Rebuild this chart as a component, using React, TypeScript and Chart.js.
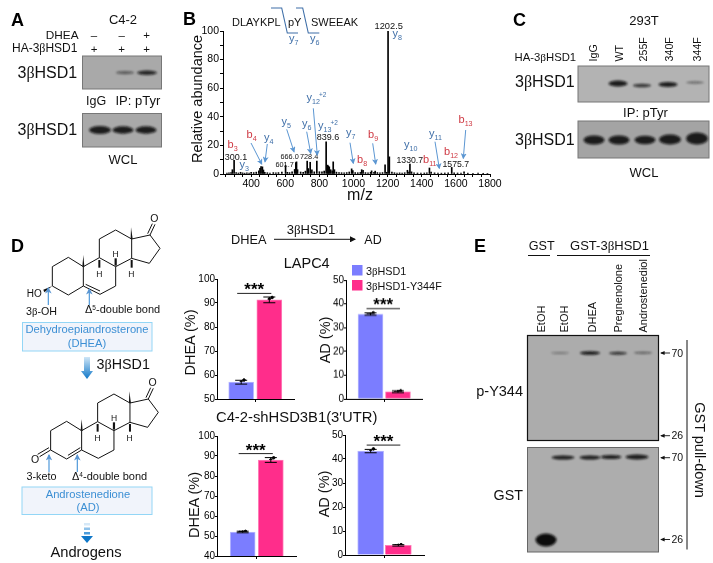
import React, { useEffect, useRef } from "react";
import { Chart, registerables } from "chart.js";

Chart.register(...registerables);

const SANS = "'Liberation Sans', Arial, sans-serif";
const BLUE = "#7b7dff";
const PINK = "#ff2d8b";
const ARROW = "#5b96d2";
const FRAG = "#3f6fa8";
const RED = "#cf3a44";

// Panel B: MS/MS spectrum
const peakMz = [258, 270, 282, 290, 300.1, 312, 325, 338, 350, 362, 375, 388, 400, 415, 430, 445, 452, 458, 466, 472, 480, 495, 510, 530, 545, 560, 580, 601.7, 612, 625, 640, 655, 662, 666, 672, 690, 705, 718, 728.4, 735, 746, 756, 770, 785, 800, 815, 828, 839.6, 848, 852, 858, 866, 875, 881, 888, 900, 915, 930, 945, 960, 975, 989, 996, 1010, 1025, 1040, 1048, 1056, 1070, 1085, 1100, 1106, 1120, 1127, 1140, 1155, 1170, 1185, 1195, 1202.5, 1210, 1225, 1240, 1255, 1270, 1285, 1300, 1316, 1325, 1330.7, 1340, 1355, 1375, 1395, 1415, 1430, 1445, 1455, 1475, 1495, 1515, 1535, 1555, 1575.7, 1590, 1610, 1630, 1648, 1670, 1700, 1730, 1760, 1785];
const peakIntensity = [0.6, 0.8, 1.0, 3.0, 9.5, 1.0, 0.7, 1.2, 0.8, 0.6, 0.9, 0.7, 1.1, 1.0, 1.3, 2.2, 4.0, 5.2, 5.0, 2.8, 1.2, 0.9, 0.7, 1.0, 0.8, 1.0, 1.4, 6.0, 1.2, 1.0, 1.5, 3.2, 8.0, 8.5, 3.0, 1.4, 1.2, 2.0, 9.0, 3.8, 8.2, 3.0, 1.5, 9.0, 1.6, 1.5, 2.0, 22.5, 6.2, 5.6, 5.0, 3.0, 2.2, 8.5, 3.0, 1.3, 1.0, 0.9, 0.8, 1.0, 1.4, 3.6, 2.4, 1.0, 0.9, 1.1, 3.0, 2.6, 1.0, 0.8, 1.2, 2.2, 1.2, 2.0, 1.0, 0.8, 1.0, 6.5, 1.2, 100, 12, 1.3, 0.9, 0.7, 0.8, 0.7, 0.9, 2.6, 1.4, 7.0, 1.5, 0.8, 0.7, 0.6, 0.7, 0.9, 4.2, 1.3, 0.8, 0.7, 0.6, 0.7, 0.8, 4.6, 0.8, 0.7, 0.6, 1.6, 0.6, 0.5, 0.6, 0.5, 0.4];

// Panel D: bars
const lapcDhea = [57, 91.3];
const lapcDheaErr = [0.8, 1.2];
const lapcDheaDots = [[56.3, 57, 57.9], [89.9, 91.6, 92.3]];
const lapcAd = [35.7, 3];
const lapcAdErr = [0.5, 0.4];
const lapcAdDots = [[35.3, 35.7, 36.2], [2.7, 3, 3.4]];
const c42Dhea = [52, 88];
const c42DheaErr = [0.4, 1.2];
const c42DheaDots = [[51.8, 52, 52.3], [86.8, 88, 89.1]];
const c42Ad = [43.3, 4];
const c42AdErr = [0.7, 0.3];
const c42AdDots = [[42.7, 43.2, 44.2], [3.8, 4, 4.3]];

const barDots = (values: number[], dots: number[][], spread: number) =>
  values.flatMap((_, i) => dots[i].map((d, k) => ({ x: i + 1 + (k - 1) * spread, y: d })));

const errorPlugin = {
  id: "errs",
  afterDatasetsDraw(chart: any) {
    const o = chart.options.plugins.errs;
    if (!o) return;
    const { x, y } = chart.scales;
    const c = chart.ctx;
    c.save();
    c.strokeStyle = "#000";
    c.lineWidth = 1;
    o.values.forEach((v: number, i: number) => {
      const px = x.getPixelForValue(i + 1);
      const top = y.getPixelForValue(v + o.err[i]);
      const bot = y.getPixelForValue(v - o.err[i]);
      c.beginPath();
      c.moveTo(px, top); c.lineTo(px, bot);
      c.moveTo(px - 6, top); c.lineTo(px + 6, top);
      c.moveTo(px - 6, bot); c.lineTo(px + 6, bot);
      c.stroke();
    });
    const by = y.getPixelForValue(o.bracket);
    c.strokeStyle = "#222";
    c.beginPath();
    c.moveTo(x.getPixelForValue(1) - 4, by);
    c.lineTo(x.getPixelForValue(2) + 2, by);
    c.stroke();
    c.fillStyle = "#000";
    c.font = `bold 17px ${SANS}`;
    c.textAlign = "center";
    c.textBaseline = "alphabetic";
    c.fillText("***", (x.getPixelForValue(1) + x.getPixelForValue(2)) / 2 - 1, by + 2);
    c.restore();
  },
};

type BarProps = {
  left: number; top: number; right: number; bottom: number;
  c1: number; c2: number; bw: number;
  min: number; max: number; step: number;
  values: number[]; err: number[]; dots: number[][]; bracket: number;
};

function useChart(make: (el: HTMLCanvasElement) => Chart) {
  const ref = useRef<HTMLCanvasElement>(null);
  useEffect(() => {
    const chart = make(ref.current!);
    return () => chart.destroy();
  }, []);
  return ref;
}

const PADL = 30, PADT = 8, PADB = 18, PADR = 4;

function BarPanel(p: BarProps) {
  const unit = p.c2 - p.c1;
  const xMin = 1 - (p.c1 - p.left) / unit;
  const xMax = 2 + (p.right - p.c2) / unit;
  const w = p.right - p.left, h = p.bottom - p.top;
  const ref = useChart((el) => new Chart(el, {
    type: "bar",
    data: {
      datasets: [
        {
          type: "bar",
          data: p.values.map((v, i) => ({ x: i + 1, y: v })),
          backgroundColor: [BLUE, PINK],
          borderColor: ["#b9baff", "#ff7db8"],
          borderWidth: 1,
          barThickness: p.bw,
        },
        {
          type: "scatter",
          data: barDots(p.values, p.dots, 0.1),
          backgroundColor: "#000",
          borderColor: "#000",
          pointRadius: 1.3,
        },
      ],
    } as any,
    options: {
      animation: false,
      responsive: false,
      layout: { padding: { left: 0, top: PADT, right: PADR, bottom: 0 } },
      plugins: {
        legend: { display: false },
        tooltip: { enabled: false },
        errs: { values: p.values, err: p.err, bracket: p.bracket },
      } as any,
      scales: {
        x: {
          type: "linear", min: xMin, max: xMax, offset: false,
          afterFit: (s: any) => { s.height = PADB; },
          afterBuildTicks: (s: any) => { s.ticks = [{ value: 1.5 }]; },
          border: { color: "#000", width: 1 },
          grid: { drawOnChartArea: false, offset: false, tickLength: 3, color: "#000" },
          ticks: { callback: () => "", font: { size: 1 } },
        },
        y: {
          min: p.min, max: p.max,
          afterFit: (s: any) => { s.width = PADL; },
          border: { color: "#000", width: 1 },
          grid: { drawOnChartArea: false, tickLength: 2, color: "#000" },
          ticks: { stepSize: p.step, color: "#000", padding: 0, font: { family: SANS, size: 10 } },
        },
      },
    },
    plugins: [errorPlugin],
  } as any));
  return (
    <canvas
      ref={ref}
      width={PADL + w + PADR}
      height={PADT + h + PADB}
      style={{ position: "absolute", left: p.left - PADL, top: p.top - PADT, width: PADL + w + PADR, height: PADT + h + PADB }}
    />
  );
}

function Spectrum() {
  const L = 223, T = 31, R = 490, B = 174, pl = 34, pt = 8, pr = 14, pb = 20;
  const ref = useChart((el) => new Chart(el, {
    type: "bar",
    data: {
      datasets: [{
        data: peakMz.map((m, i) => ({ x: m, y: peakIntensity[i] })),
        backgroundColor: "#000",
        barThickness: 1,
      }],
    },
    options: {
      animation: false,
      responsive: false,
      layout: { padding: { left: 0, top: pt, right: pr, bottom: 0 } },
      plugins: { legend: { display: false }, tooltip: { enabled: false } },
      scales: {
        x: {
          type: "linear", min: 235, max: 1800, offset: false,
          afterFit: (s: any) => { s.height = pb; },
          afterBuildTicks: (s: any) => {
            const t = [];
            for (let v = 250; v <= 1800; v += 50) t.push({ value: v });
            s.ticks = t;
          },
          border: { color: "#000", width: 1 },
          grid: { drawOnChartArea: false, offset: false, tickLength: 3, color: "#000" },
          ticks: {
            autoSkip: false, maxRotation: 0, color: "#000", padding: 1,
            font: { family: SANS, size: 10.5 },
            callback: (v: any) => (v % 200 === 0 ? String(v) : ""),
          },
        },
        y: {
          min: 0, max: 100,
          afterFit: (s: any) => { s.width = pl; },
          border: { color: "#000", width: 1 },
          grid: { drawOnChartArea: false, tickLength: 3, color: "#000" },
          ticks: {
            stepSize: 10, autoSkip: false, color: "#000", padding: 1,
            font: { family: SANS, size: 10.5 },
            callback: (v: any) => (v % 20 === 0 ? String(v) : ""),
          },
        },
      },
    },
  } as any));
  const w = pl + (R - L) + pr, h = pt + (B - T) + pb;
  return <canvas ref={ref} width={w} height={h} style={{ position: "absolute", left: L - pl, top: T - pt, width: w, height: h }} />;
}

const T = (p: any) => {
  const { x, y, s = 12, a = "start", c = "#111", w, children } = p;
  return (
    <text x={x} y={y} fontSize={s} textAnchor={a} fill={c} fontWeight={w} fontFamily={SANS}>{children}</text>
  );
};
const Beta = () => <tspan fontFamily="'Liberation Serif', serif">β</tspan>;
const Hsd = (p: any) => <T {...p}>3<Beta />HSD1</T>;

const Frag = ({ x, y, n, c = FRAG, s = 11 }: any) => (
  <text x={x} y={y} fontSize={s} fill={c} fontFamily={SANS}>{n[0]}<tspan fontSize={s * 0.65} dy={3}>{n.slice(1)}</tspan></text>
);
const Arr = ({ x1, y1, x2, y2, c = ARROW, w = 1 }: any) => (
  <line x1={x1} y1={y1} x2={x2} y2={y2} stroke={c} strokeWidth={w} markerEnd="url(#ah)" />
);

const Band = ({ x, y, rx, ry, o = 0.9 }: any) => (
  <ellipse cx={x} cy={y} rx={rx} ry={ry} fill="#0c0c0c" opacity={o} filter="url(#soft)" />
);
const Gel = ({ x, y, w, h, f = "#a9a9a9", s = "#777", sw = 1 }: any) => (
  <rect x={x} y={y} width={w} height={h} fill={f} stroke={s} strokeWidth={sw} />
);

const Steroid = ({ ox, oy, dhea }: { ox: number; oy: number; dhea: boolean }) => {
  const P = (pts: number[][]) => pts.map((q) => `${ox + q[0] / 3},${oy + q[1] / 3}`).join(" ");
  const line = (a: number[], b: number[], sw = 1) => (
    <line x1={ox + a[0] / 3} y1={oy + a[1] / 3} x2={ox + b[0] / 3} y2={oy + b[1] / 3} stroke="#111" strokeWidth={sw} />
  );
  const H = (x: number, y: number) => <T x={ox + x / 3} y={oy + y / 3} s={8.5} a="middle">H</T>;
  return (
    <g>
      <polyline fill="none" stroke="#111" strokeWidth={1}
        points={P([[97, 243], [97, 185], [145, 157], [190, 185], [190, 243], [145, 270], [97, 243]])} />
      <polyline fill="none" stroke="#111" strokeWidth={1}
        points={P([[190, 185], [238, 158], [287, 185], [287, 243], [240, 268], [190, 243]])} />
      <polyline fill="none" stroke="#111" strokeWidth={1}
        points={P([[238, 158], [238, 102], [287, 75], [335, 102], [335, 160], [287, 185]])} />
      <polyline fill="none" stroke="#111" strokeWidth={1}
        points={P([[335, 102], [390, 90], [420, 130], [388, 175], [335, 160]])} />
      {line([390, 90], [405, 58])}{line([383, 86], [397, 56])}
      <T x={ox + 403 / 3} y={oy + 52 / 3} s={10.5} a="middle">O</T>
      <polygon fill="#111" points={P([[187, 185], [193, 185], [190, 150]])} />
      <polygon fill="#111" points={P([[332, 102], [338, 102], [333, 67]])} />
      {line([238, 165], [238, 188], 2)}
      {line([287, 182], [287, 160], 2.2)}
      {line([335, 165], [335, 188], 2)}
      {H(238, 217)}{H(287, 155)}{H(334, 215)}
      {dhea ? (
        <g>
          {line([197, 238], [240, 258])}
          <polygon fill="#111" points={P([[97, 243], [70, 254], [73, 262]])} />
          <T x={ox + 20 / 3} y={oy + 276 / 3} s={10}>HO</T>
        </g>
      ) : (
        <g>
          {line([149, 259], [186, 236])}
          {line([97, 243], [64, 263])}{line([92, 236], [58, 256])}
          <T x={ox + 50 / 3} y={oy + 281 / 3} s={10.5} a="middle">O</T>
        </g>
      )}
    </g>
  );
};

const mwMark = (y: number, t: string) => (
  <g key={y + t}>
    <line x1={670} y1={y} x2={661} y2={y} stroke="#111" strokeWidth={0.9} markerEnd="url(#ahk)" />
    <T x={671.5} y={y + 3.7} s={10.5}>{t}</T>
  </g>
);

export default function App() {
  return (
    <div style={{ position: "absolute", left: 0, top: 0, width: 713, height: 563, background: "#fff", overflow: "hidden" }}>
      <Spectrum />
      <BarPanel left={217} top={279} right={295} bottom={399} c1={241.5} c2={270} bw={25} min={50} max={100} step={10} values={lapcDhea} err={lapcDheaErr} dots={lapcDheaDots} bracket={94} />
      <BarPanel left={345.5} top={280} right={423} bottom={398.7} c1={370.5} c2={398.5} bw={25} min={0} max={50} step={10} values={lapcAd} err={lapcAdErr} dots={lapcAdDots} bracket={38} />
      <BarPanel left={217} top={435.7} right={297} bottom={556} c1={243} c2={271.5} bw={25} min={40} max={100} step={10} values={c42Dhea} err={c42DheaErr} dots={c42DheaDots} bracket={91.2} />
      <BarPanel left={345} top={435} right={425} bottom={555} c1={371} c2={399} bw={26} min={0} max={50} step={10} values={c42Ad} err={c42AdErr} dots={c42AdDots} bracket={45.8} />

      <svg width={713} height={563} style={{ position: "absolute", left: 0, top: 0 }}>
        <defs>
          <filter id="soft" x="-40%" y="-120%" width="180%" height="340%"><feGaussianBlur stdDeviation="1.3" /></filter>
          <marker id="ah" markerWidth="6" markerHeight="6" refX="5" refY="3" orient="auto"><path d="M0,0 L6,3 L0,6 L1.5,3 Z" fill={ARROW} /></marker>
          <marker id="ahk" markerWidth="5" markerHeight="5" refX="4" refY="2.5" orient="auto"><path d="M0,0.3 L5,2.5 L0,4.7 Z" fill="#111" /></marker>
          <marker id="ahb" markerWidth="6" markerHeight="6" refX="5" refY="3" orient="auto"><path d="M0,0 L6,3 L0,6 Z" fill="#111" /></marker>
          <linearGradient id="down" x1="0" y1="0" x2="0" y2="1"><stop offset="0" stopColor="#cfe6f7" /><stop offset="1" stopColor="#0f77c8" /></linearGradient>
        </defs>

        {/* panel letters */}
        <T x={11} y={26} s={18} w="bold" c="#000">A</T>
        <T x={183} y={25} s={18} w="bold" c="#000">B</T>
        <T x={513} y={26} s={18} w="bold" c="#000">C</T>
        <T x={11} y={252} s={18} w="bold" c="#000">D</T>
        <T x={474} y={252} s={18} w="bold" c="#000">E</T>

        {/* A */}
        <T x={123} y={24} s={13} a="middle">C4-2</T>
        <T x={78.5} y={38.5} s={11.8} a="end">DHEA</T>
        <T x={12} y={52} s={12}>HA-3<Beta />HSD1</T>
        {["–", "–", "+"].map((t, i) => <T key={"a1" + i} x={[94, 121.7, 146.7][i]} y={39} s={11.5} a="middle">{t}</T>)}
        {["+", "+", "+"].map((t, i) => <T key={"a2" + i} x={[94, 121.7, 146.7][i]} y={53} s={11.5} a="middle">{t}</T>)}
        <Gel x={82.5} y={56} w={79} h={33} />
        <Band x={125} y={72.7} rx={9} ry={1.6} o={0.5} />
        <Band x={147} y={72.7} rx={10} ry={2.2} o={0.85} />
        <Hsd x={17.5} y={78} s={16} />
        <T x={86} y={105} s={12.5}>IgG</T>
        <T x={115.5} y={105} s={13}>IP: pTyr</T>
        <Gel x={82.5} y={113.5} w={79} h={33.5} />
        <Band x={100} y={130} rx={11} ry={4} />
        <Band x={123} y={130} rx={10.5} ry={3.7} />
        <Band x={146} y={130} rx={10.5} ry={3.7} />
        <Hsd x={17.5} y={135} s={16} />
        <T x={123} y={164} s={13} a="middle">WCL</T>

        {/* B annotations */}
        <T x={232} y={26} s={11}>DLAYKPL</T>
        <T x={288} y={26} s={11}>pY</T>
        <T x={311} y={26} s={11}>SWEEAK</T>
        <polyline fill="none" stroke={FRAG} strokeWidth={1.1} points="271,8 281.7,8 287.3,33 298,33" />
        <polyline fill="none" stroke={FRAG} strokeWidth={1.1} points="296,8 302.7,8 308.3,33 319.3,33" />
        <Frag x={289} y={42} n="y7" /><Frag x={310} y={42} n="y6" />
        <T x={388.7} y={28.5} s={9.3} a="middle">1202.5</T>
        <Frag x={392.5} y={37} n="y8" />
        <Frag x={306.5} y={101} n="y12" /><T x={319} y={97} s={6.5} c={FRAG}>+2</T>
        <Frag x={281.5} y={125} n="y5" />
        <Frag x={302} y={127} n="y6" />
        <Frag x={318} y={129} n="y13" /><T x={330.5} y={125} s={6.5} c={FRAG}>+2</T>
        <T x={328} y={140} s={9} a="middle">839.6</T>
        <Frag x={346} y={136} n="y7" />
        <Frag x={404} y={148} n="y10" />
        <Frag x={429} y={137} n="y11" />
        <Frag x={227.5} y={148} n="b3" c={RED} />
        <Frag x={246.5} y={138} n="b4" c={RED} />
        <Frag x={264} y={141} n="y4" />
        <Frag x={239.5} y={168} n="y3" />
        <T x={236} y={159.5} s={9} a="middle">300.1</T>
        <T x={280.5} y={159} s={7.3}>666.0</T>
        <T x={300} y={159} s={7.3}>728.4</T>
        <T x={275.5} y={167} s={7.3}>601.7</T>
        <Frag x={357} y={163} n="b8" c={RED} />
        <Frag x={368} y={138} n="b9" c={RED} />
        <Frag x={423} y={163} n="b11" c={RED} />
        <Frag x={444} y={155} n="b12" c={RED} />
        <Frag x={458.5} y={123} n="b13" c={RED} />
        <T x={396.5} y={163} s={8.7}>1330.7</T>
        <T x={442.5} y={167} s={8.7}>1575.7</T>
        <Arr x1={251} y1={143} x2={261.7} y2={164} />
        <Arr x1={267.3} y1={144} x2={265} y2={161.7} />
        <Arr x1={286.7} y1={129.3} x2={294} y2={151.7} />
        <Arr x1={306.7} y1={131.7} x2={310.7} y2={153.3} />
        <Arr x1={313.3} y1={108.3} x2={317.3} y2={155} />
        <Arr x1={350} y1={142.7} x2={353.3} y2={163.3} />
        <Arr x1={372.7} y1={143.3} x2={375.7} y2={164} />
        <Arr x1={435} y1={141.7} x2={439.3} y2={168.3} />
        <Arr x1={465.7} y1={130} x2={463.3} y2={158.3} />
        <g transform="translate(201.5 99) rotate(-90)"><T x={0} y={0} s={14.5} a="middle">Relative abundance</T></g>
        <T x={360} y={200} s={16} a="middle">m/z</T>

        {/* C */}
        <T x={644} y={25} s={13} a="middle">293T</T>
        <T x={514.5} y={61} s={11.3}>HA-3<Beta />HSD1</T>
        {["IgG", "WT", "255F", "340F", "344F"].map((t, i) => (
          <g key={t} transform={`translate(${[597, 622.5, 647, 672.5, 700.5][i]} 61.5) rotate(-90)`}><T x={0} y={0} s={10.7}>{t}</T></g>
        ))}
        <Gel x={578} y={66} w={131} h={36} f="#b3b3b3" />
        <Band x={618} y={83.5} rx={9.5} ry={3} />
        <Band x={642} y={85.5} rx={9} ry={1.7} o={0.75} />
        <Band x={668} y={84.5} rx={9.5} ry={2.6} />
        <Band x={695} y={82.5} rx={9} ry={1.2} o={0.45} />
        <Hsd x={515} y={87} s={16} />
        <T x={645.5} y={117} s={13} a="middle">IP: pTyr</T>
        <Gel x={578} y={121} w={131} h={37} f="#a4a4a4" />
        <Band x={594} y={140} rx={10.5} ry={4.5} />
        <Band x={619} y={140} rx={10.5} ry={4.5} />
        <Band x={645} y={140} rx={10.5} ry={4.2} />
        <Band x={670} y={139.5} rx={11} ry={5} />
        <Band x={697} y={138.5} rx={11} ry={6} />
        <Hsd x={515} y={145} s={16} />
        <T x={644} y={177} s={13} a="middle">WCL</T>

        {/* D scheme */}
        <Steroid ox={20} oy={205} dhea />
        <Steroid ox={18.3} oy={369} dhea={false} />
        <Arr x1={48.3} y1={305} x2={48.3} y2={288} c="#3f8fd6" w={1.1} />
        <Arr x1={89.3} y1={305} x2={89.3} y2={289} c="#3f8fd6" w={1.1} />
        <Arr x1={49} y1={472} x2={49} y2={455} c="#3f8fd6" w={1.1} />
        <Arr x1={77.3} y1={472} x2={77.3} y2={455} c="#3f8fd6" w={1.1} />
        <T x={26} y={315} s={10.7}>3<Beta />-OH</T>
        <T x={85} y={313} s={11}>Δ<tspan fontSize={6.5} dy={-3}>5</tspan><tspan dy={3}>-double bond</tspan></T>
        <rect x={22.5} y={322.5} width={129.5} height={28.5} fill="#f1f4fb" stroke="#93d6f6" />
        <T x={87} y={333} s={11.2} a="middle" c="#3c8fd4">Dehydroepiandrosterone</T>
        <T x={87} y={347} s={11.2} a="middle" c="#3c8fd4">(DHEA)</T>
        <polygon points="84,357 90,357 90,371 93,371 87,379 81,371 84,371" fill="url(#down)" />
        <Hsd x={96.5} y={369} s={14.3} />
        <T x={26.5} y={480} s={10.8}>3-keto</T>
        <T x={72} y={480} s={11}>Δ<tspan fontSize={6.5} dy={-3}>4</tspan><tspan dy={3}>-double bond</tspan></T>
        <rect x={22} y={487} width={130} height={27.5} fill="#f1f4fb" stroke="#93d6f6" />
        <T x={88} y={497.5} s={11.2} a="middle" c="#3c8fd4">Androstenedione</T>
        <T x={88} y={511} s={11.2} a="middle" c="#3c8fd4">(AD)</T>
        <rect x={84} y={523} width={6} height={2.5} fill="#d5e8f7" />
        <rect x={84} y={527.5} width={6} height={2.5} fill="#8fc2ea" />
        <rect x={84} y={532} width={6} height={2.5} fill="#4d9ddb" />
        <polygon points="81,536 93,536 87,543" fill="#0f77c8" />
        <T x={86} y={557} s={14.7} a="middle">Androgens</T>

        {/* D heading and legend */}
        <T x={231} y={243.7} s={12.8}>DHEA</T>
        <line x1={274} y1={239.3} x2={355} y2={239.3} stroke="#111" strokeWidth={1} markerEnd="url(#ahb)" />
        <Hsd x={286.7} y={234} s={13} />
        <T x={364.3} y={243.7} s={12.5}>AD</T>
        <T x={306.7} y={268} s={14.5} a="middle">LAPC4</T>
        <T x={296.7} y={421.5} s={14.8} a="middle">C4-2-shHSD3B1(3′UTR)</T>
        <rect x={352} y={265} width={10.5} height={10.5} fill={BLUE} />
        <rect x={352} y={280} width={10.5} height={10.5} fill={PINK} />
        <Hsd x={366} y={275} s={10.8} />
        <T x={366} y={290} s={10.8}>3<Beta />HSD1-Y344F</T>
        {[[195, 342.5, "DHEA (%)"], [199, 505, "DHEA (%)"], [330, 340, "AD (%)"], [329, 494, "AD (%)"]].map(([x, y, t], i) => (
          <g key={i} transform={`translate(${x} ${y}) rotate(-90)`}><T x={0} y={0} s={14.5} a="middle">{t}</T></g>
        ))}

        {/* E */}
        <T x={541.7} y={250} s={12.6} a="middle">GST</T>
        <line x1={528} y1={255.5} x2={550} y2={255.5} stroke="#111" />
        <T x={609.5} y={250} s={13} a="middle">GST-3<Beta />HSD1</T>
        <line x1={557} y1={255.5} x2={650} y2={255.5} stroke="#111" />
        {["EtOH", "EtOH", "DHEA", "Pregnenolone", "Androstenediol"].map((t, i) => (
          <g key={t + i} transform={`translate(${[545, 567.7, 595.7, 621.7, 647.3][i]} 332.5) rotate(-90)`}><T x={0} y={0} s={11}>{t}</T></g>
        ))}
        <Gel x={527.5} y={335.5} w={131} h={105} f="#acacac" s="#111" sw={1.2} />
        <Band x={560} y={353} rx={9} ry={0.9} o={0.35} />
        <Band x={590} y={353} rx={10} ry={1.8} o={0.95} />
        <Band x={618} y={353.3} rx={9} ry={1.5} o={0.8} />
        <Band x={643} y={352.8} rx={9} ry={1.1} o={0.5} />
        <T x={523} y={396} s={14.5} a="end">p-Y344</T>
        <Gel x={527.5} y={447.5} w={131} h={104.5} f="#adadad" s="#666" />
        <Band x={563} y={457.5} rx={11.5} ry={2} />
        <Band x={590} y={457.5} rx={10.5} ry={2} />
        <Band x={611} y={457} rx={10.5} ry={2} />
        <Band x={637} y={457} rx={11.5} ry={2.4} />
        <Band x={546} y={540} rx={10.5} ry={6.5} o={1} />
        <T x={523} y={500} s={14.3} a="end">GST</T>
        {mwMark(353, "70")}
        {mwMark(435.7, "26")}
        {mwMark(457.7, "70")}
        {mwMark(539.5, "26")}
        <line x1={687} y1={340} x2={687} y2={549.5} stroke="#111" />
        <g transform="translate(695 450) rotate(90)"><T x={0} y={0} s={14.5} a="middle">GST pull-down</T></g>
      </svg>
    </div>
  );
}
